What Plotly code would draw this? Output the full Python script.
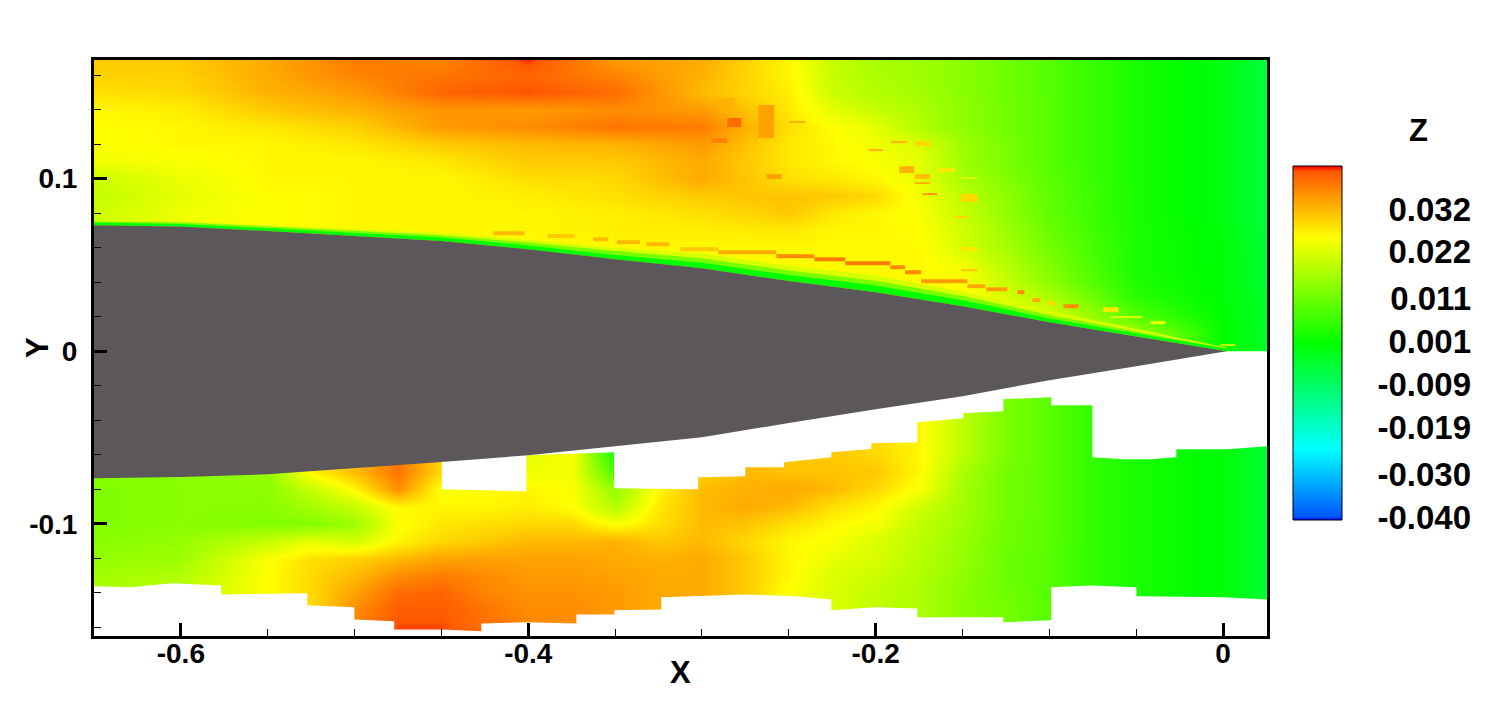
# plot.py - surface contour of Z around a slender body (X-Y plane)
import numpy as np
import plotly.graph_objects as go

# colour scale range and legend
z_min = -0.0407
z_max = 0.04205
legend_ticks = [0.032, 0.022, 0.011, 0.001, -0.009, -0.019, -0.030, -0.040]
legend_labels = ['0.032', '0.022', '0.011', '0.001', '-0.009', '-0.019', '-0.030', '-0.040']
legend_levels = [-0.0407, -0.03971, -0.02415, 0.000675, 0.0255, 0.04081, 0.04205]

# field above the body, Z in thousandths, rows listed from top to bottom
upper_x = [-0.65, -0.6, -0.55, -0.5, -0.45, -0.4, -0.35, -0.3, -0.25, -0.225, -0.2, -0.175, -0.15, -0.1, -0.05, 0.0, 0.0253]
upper_y = [0.1687, 0.16, 0.15, 0.14, 0.13, 0.12, 0.11, 0.10, 0.09, 0.08, 0.07, 0.06, 0.05, 0.04, 0.03, 0.02, 0.01, 0.0]
upper_z = [
    [30.4, 30.4, 33.3, 37.5, 36.8, 41.5, 34.7, 33.3, 26.2, 20.0, 17.0, 16.0, 14.0, 9.0, 3.0, -1.0, -5.0],
    [29.7, 29.7, 33.3, 36.8, 38.2, 39.6, 36.8, 32.5, 26.2, 20.0, 17.5, 16.0, 14.0, 9.0, 3.0, -1.0, -5.0],
    [28.3, 29.0, 32.5, 34.7, 39.6, 41.0, 38.9, 31.8, 27.0, 20.5, 18.0, 16.5, 14.0, 9.0, 3.0, -1.0, -5.0],
    [26.2, 27.0, 30.4, 32.5, 35.4, 34.7, 36.0, 34.7, 27.6, 23.0, 20.0, 17.5, 14.5, 9.0, 3.0, -1.0, -5.0],
    [25.5, 26.2, 27.6, 29.7, 34.7, 36.0, 38.2, 37.5, 28.3, 25.5, 23.0, 18.0, 14.5, 9.0, 3.0, -1.0, -5.0],
    [25.0, 26.2, 26.2, 27.6, 30.4, 31.8, 32.5, 34.7, 27.6, 26.2, 24.0, 22.0, 16.0, 9.0, 3.0, -1.0, -5.0],
    [24.0, 25.0, 26.2, 26.2, 27.6, 30.4, 30.4, 33.3, 27.6, 26.2, 25.0, 23.0, 16.0, 9.0, 3.0, -1.0, -5.0],
    [20.5, 23.5, 26.2, 26.2, 26.2, 28.3, 29.0, 33.3, 28.3, 27.6, 26.2, 23.5, 17.0, 9.5, 3.0, -1.0, -5.0],
    [19.5, 23.0, 25.5, 26.2, 26.2, 27.0, 28.3, 30.4, 31.0, 30.4, 29.0, 24.5, 19.0, 10.0, 3.0, -1.0, -5.0],
    [20.5, 24.0, 25.5, 26.2, 26.2, 26.2, 27.0, 28.3, 30.4, 27.6, 26.2, 25.0, 20.0, 10.0, 3.0, -1.0, -5.0],
    [20.5, 24.0, 25.5, 26.2, 26.2, 26.2, 27.0, 27.0, 27.6, 26.2, 26.2, 25.5, 21.0, 11.0, 3.0, -0.5, -5.0],
    [22.0, 24.0, 25.5, 26.0, 26.0, 26.0, 26.0, 26.0, 26.0, 26.0, 26.0, 26.0, 21.5, 12.0, 3.0, 0.0, -4.5],
    [22.0, 24.0, 25.5, 26.0, 26.0, 26.0, 26.0, 26.0, 26.0, 26.0, 26.0, 26.0, 24.0, 13.0, 3.0, 0.0, -4.0],
    [22.0, 24.0, 25.5, 26.0, 26.0, 26.0, 26.0, 26.0, 26.0, 26.0, 26.0, 26.0, 25.5, 14.5, 3.5, 0.0, -4.0],
    [22.0, 24.0, 25.5, 26.0, 26.0, 26.0, 26.0, 26.0, 26.0, 26.0, 26.0, 26.0, 26.0, 18.0, 5.0, 0.0, -3.0],
    [22.0, 24.0, 25.5, 26.0, 26.0, 26.0, 26.0, 26.0, 26.0, 26.0, 26.0, 26.0, 26.0, 22.0, 9.0, 0.5, -3.0],
    [22.0, 24.0, 25.5, 26.0, 26.0, 26.0, 26.0, 26.0, 26.0, 26.0, 26.0, 26.0, 26.0, 24.0, 17.0, 1.0, -3.0],
    [22.0, 24.0, 25.5, 26.0, 26.0, 26.0, 26.0, 26.0, 26.0, 26.0, 26.0, 26.0, 26.0, 24.0, 18.0, 1.0, -3.0],
]

# field below the body, Z in thousandths, rows listed from top to bottom
lower_x = [-0.65, -0.6, -0.55, -0.525, -0.5, -0.475, -0.45, -0.425, -0.4, -0.375, -0.35, -0.325, -0.3,
           -0.275, -0.25, -0.225, -0.2, -0.175, -0.15, -0.125, -0.1, -0.075, -0.05, 0.0, 0.0253]
lower_y = [-0.02, -0.05, -0.06, -0.07, -0.08, -0.09, -0.10, -0.11, -0.12, -0.13, -0.14, -0.15, -0.165]
lower_z = [
    [14, 14, 14.5, 26.2, 31.8, 38.2, 29, 26.2, 23, 25, 3, 26.2, 27.6, 31.8, 30.4, 30.4, 29, 26.2, 19, 12.5, 9.5, 5.5, 3, 0, -4.5],
    [14, 14, 14.5, 26.2, 31.8, 38.2, 29, 26.2, 23, 25, 3, 26.2, 27.6, 31.8, 30.4, 30.4, 29, 26.2, 19, 12.5, 9.5, 5.5, 3, 0, -4.5],
    [14, 14, 14.5, 26.2, 31.8, 38.2, 29, 26.2, 23, 25, 3, 26.2, 27.6, 31.8, 30.4, 30.4, 29, 26.2, 19, 12.5, 9.5, 5.5, 3, 0, -4.5],
    [14, 14, 15, 26.2, 31.8, 38.2, 29, 26.2, 24, 24.5, 8, 26.2, 29, 31.8, 31, 31, 30.4, 26.2, 17, 12, 9.5, 5.5, 3, 0, -4.5],
    [13, 14, 14.5, 20, 26.2, 36, 25, 25.5, 26.2, 25, 15, 26.2, 31.8, 32.5, 33.3, 31.8, 29, 25, 16.5, 12, 9.5, 5.5, 3, 0, -4.5],
    [13, 14, 14, 16.5, 20, 26.2, 26.2, 26.2, 27, 25.5, 18, 27.6, 31.8, 33.3, 31.8, 28.3, 26.2, 21, 16.5, 12, 9.5, 5.5, 3, 0, -4.5],
    [13, 14, 13.5, 13.5, 16, 25, 27.6, 28.3, 29, 29, 25, 28.3, 31.8, 31, 28.3, 26.2, 24.5, 19.5, 16, 11.5, 9.5, 5.5, 3, 0, -4.5],
    [14, 15, 20, 23, 21, 26.2, 29, 30.4, 31.8, 31.8, 32.5, 30.4, 31.8, 29, 26.2, 25, 22, 19, 15.5, 11.5, 9.5, 5.5, 3, 0, -4.5],
    [15, 16, 25, 28.3, 29.7, 31.8, 34, 34, 34, 34, 33.3, 32.5, 33.3, 30.4, 26.2, 23.5, 21.5, 18.5, 15, 11, 9, 5.5, 3, 0, -4.5],
    [16.5, 18, 25.5, 29, 31.8, 36, 37.5, 36, 34.7, 34.7, 34, 33.3, 33.3, 30.4, 26.2, 22, 20.5, 18, 14.5, 11, 9, 5.5, 3, 0, -4.5],
    [17, 19, 25.5, 29, 34, 38.9, 39.6, 36.8, 35.4, 35.4, 34.7, 33.3, 33.3, 30.4, 25, 22, 19.5, 17.5, 14, 11.5, 9, 5.5, 3, 0, -4.5],
    [17, 19, 25.5, 29, 36, 40.3, 40.3, 38.2, 36, 36, 34.7, 33.3, 33.3, 30.4, 25, 22, 19.5, 17.5, 14, 12, 9, 5.5, 3, 0, -4.5],
    [17, 19, 25.5, 29, 37.5, 41.5, 41.5, 38.9, 36.8, 36, 34.7, 33.3, 33.3, 30.4, 25, 22, 19.5, 17.5, 14, 12, 9, 5.5, 3, 0, -4.5],
]

# body outline
body_x = [-0.65, -0.6, -0.55, -0.5, -0.45, -0.4, -0.35, -0.3, -0.25, -0.2, -0.15, -0.1, -0.05, 0.002]
body_top_y = [0.073, 0.0722, 0.0696, 0.0668, 0.0638, 0.0591, 0.0533, 0.0481, 0.0406, 0.0342, 0.0261, 0.0168, 0.0087, 0.0]
body_bottom_y = [-0.0736, -0.0729, -0.0713, -0.0678, -0.0642, -0.0603, -0.0551, -0.0499, -0.0416, -0.0336, -0.0261,
                 -0.0168, -0.0087, 0.0]

# thin layer on the upper surface
wall_green_y = [0.0745, 0.0737, 0.0712, 0.0686, 0.0658, 0.0613, 0.0558, 0.0513, 0.0441, 0.038, 0.0295, 0.019, 0.0102, 0.0015]
wall_lime_y = [0.0752, 0.0745, 0.0722, 0.0698, 0.0672, 0.063, 0.058, 0.0538, 0.0468, 0.0408, 0.032, 0.021, 0.0115, 0.0015]
wall_pale_y = [0.0757, 0.0752, 0.073, 0.0708, 0.0685, 0.0645, 0.0598, 0.0566, 0.0495, 0.0438, 0.0345, 0.0235, 0.013, 0.002]

# upper edge of the lower data block (steps)
gap_x = [-0.4497, -0.4497, -0.4011, -0.4011, -0.3506, -0.3506, -0.3022, -0.3022, -0.275, -0.275, -0.2527, -0.2527,
         -0.2255, -0.2255, -0.2025, -0.2025, -0.176, -0.176, -0.1495, -0.1495, -0.1265, -0.1265, -0.0989, -0.0989,
         -0.0752, -0.0752, -0.0568, -0.0413, -0.0269, -0.0269, 0.0025, 0.0253]
gap_y = [0.0, -0.08, -0.0812, -0.0603, -0.0586, -0.0794, -0.08, -0.073, -0.0725, -0.0672, -0.0672, -0.0643,
         -0.0614, -0.0586, -0.0566, -0.0533, -0.0528, -0.0412, -0.0388, -0.0359, -0.0348, -0.0278, -0.0267, -0.0313,
         -0.0313, -0.0614, -0.0626, -0.0626, -0.0614, -0.0568, -0.0568, -0.0551]

# lower edge of the lower data block (steps)
floor_x = [-0.65, -0.629, -0.605, -0.5768, -0.5768, -0.5347, -0.5272, -0.5272, -0.5001, -0.5001, -0.4772, -0.4772,
           -0.4495, -0.427, -0.427, -0.4011, -0.3723, -0.3723, -0.3504, -0.3504, -0.3234, -0.3234, -0.275,
           -0.2463, -0.2255, -0.2255, -0.2002, -0.176, -0.176, -0.1265, -0.1265, -0.0989, -0.0989, -0.0758,
           -0.0499, -0.0499, 0.0, 0.0253]
floor_y = [-0.1362, -0.1368, -0.1345, -0.1357, -0.1409, -0.1403, -0.1403, -0.1472, -0.1484, -0.1554, -0.1565, -0.1612,
           -0.1612, -0.1623, -0.1577, -0.1571, -0.1577, -0.1525, -0.1525, -0.1501, -0.1496, -0.1426, -0.1409,
           -0.142, -0.1438, -0.1501, -0.1484, -0.149, -0.1542, -0.1542, -0.1571, -0.1559, -0.1368, -0.1357,
           -0.1368, -0.142, -0.1426, -0.1438]

# isolated cells in the wake, Z in thousandths
cell_x0 = [-0.2676, -0.2854, -0.29, -0.2946, -0.2497, -0.2629, -0.1864, -0.1777, -0.191, -0.2042, -0.1639, -0.1777,
           -0.1777, -0.1731, -0.1507, -0.1507, -0.1547, -0.1507, -0.1507, -0.0689, -0.0419, -0.0649, -0.0016]
cell_x1 = [-0.2584, -0.2773, -0.2808, -0.2854, -0.2405, -0.2543, -0.1777, -0.1685, -0.1818, -0.1956, -0.1547, -0.1685,
           -0.1685, -0.1645, -0.1415, -0.1415, -0.146, -0.1415, -0.1415, -0.0603, -0.0332, -0.0465, 0.007]
cell_y0 = [0.1235, 0.1299, 0.1397, 0.1206, 0.1322, 0.0997, 0.1032, 0.1188, 0.1206, 0.1159, 0.1038, 0.0997,
           0.0968, 0.0904, 0.0864, 0.0997, 0.0771, 0.058, 0.0464, 0.0226, 0.0157, 0.0191, 0.0029]
cell_y1 = [0.1426, 0.1351, 0.1467, 0.1235, 0.1333, 0.1026, 0.1072, 0.1217, 0.1217, 0.1171, 0.1061, 0.1026,
           0.098, 0.0916, 0.091, 0.1009, 0.0783, 0.0603, 0.0475, 0.0255, 0.0174, 0.0203, 0.0041]
cell_z = [34.0, 38.9, 32.5, 36.8, 32.5, 34.0, 32.5, 29.0, 32.5, 32.5, 27.6, 31.0,
          32.5, 34.7, 29.0, 22.0, 29.0, 27.6, 31.0, 27.6, 24.0, 22.0, 20.0]

# hot streak just off the upper surface, Z in thousandths
streak_x0 = [-0.42, -0.389, -0.3625, -0.349, -0.332, -0.3125, -0.2906, -0.2572, -0.2353, -0.2175, -0.1916, -0.183,
             -0.1737, -0.1472, -0.1363, -0.1184, -0.1098, -0.1012, -0.0919]
streak_x1 = [-0.402, -0.3734, -0.354, -0.336, -0.319, -0.2906, -0.2572, -0.2353, -0.2175, -0.1916, -0.183, -0.1737,
             -0.1472, -0.1368, -0.1242, -0.1144, -0.1052, -0.0966, -0.0833]
streak_y = [0.0684, 0.0667, 0.0649, 0.0632, 0.062, 0.0591, 0.0574, 0.0551, 0.0533, 0.051, 0.0487, 0.0458,
            0.0406, 0.0377, 0.0359, 0.0342, 0.0296, 0.0278, 0.0261]
streak_z = [31.8, 30.4, 31.8, 31.8, 31.8, 30.4, 33.3, 36.0, 37.5, 37.5, 36.0, 36.0, 34.7, 33.3, 34.7, 36.0, 33.3, 29.0, 36.0]

x_tick_vals = [-0.6, -0.4, -0.2, 0]
x_tick_labels = ['-0.6', '-0.4', '-0.2', '0']
y_tick_vals = [-0.1, 0, 0.1]
y_tick_labels = ['-0.1', '0', '0.1']

FONT = 'Liberation Sans, Arial, sans-serif'
W, H = 1500, 702

fig = go.Figure()

# contour field
fig.add_trace(go.Heatmap(x=upper_x, y=upper_y[::-1], z=(np.array(upper_z)[::-1] / 1000).tolist(),
                         zsmooth='best', coloraxis='coloraxis', hoverinfo='skip'))
fig.add_trace(go.Heatmap(x=lower_x, y=lower_y[::-1], z=(np.array(lower_z, dtype=float)[::-1] / 1000).tolist(),
                         zsmooth='best', coloraxis='coloraxis', hoverinfo='skip'))

# areas with no data under the body
fig.add_trace(go.Scatter(x=gap_x + [0.0253, -0.4497], y=gap_y + [0.0, 0.0], mode='lines', fill='toself',
                         fillcolor='white', line=dict(width=0), hoverinfo='skip'))
fig.add_trace(go.Scatter(x=floor_x + [0.0253, -0.65], y=floor_y + [-0.17, -0.17], mode='lines', fill='toself',
                         fillcolor='white', line=dict(width=0), hoverinfo='skip'))

# wall layer, outermost first
for band_y, band_color in [(wall_pale_y, '#d8ff00'), (wall_lime_y, '#78ff00'), (wall_green_y, '#00ff00')]:
    fig.add_trace(go.Scatter(x=body_x + body_x[::-1], y=band_y + body_top_y[::-1], mode='lines', fill='toself',
                             fillcolor=band_color, line=dict(width=0), hoverinfo='skip'))

# cells and streak pieces are one-cell heatmaps so they take their colour from the same scale
for x0, x1, y0, y1, val in zip(cell_x0, cell_x1, cell_y0, cell_y1, cell_z):
    fig.add_trace(go.Heatmap(x=[x0, x1], y=[y0, y1], z=[[val / 1000]], coloraxis='coloraxis', hoverinfo='skip'))
for x0, x1, yc, val in zip(streak_x0, streak_x1, streak_y, streak_z):
    fig.add_trace(go.Heatmap(x=[x0, x1], y=[yc - 0.0011, yc + 0.0011], z=[[val / 1000]], coloraxis='coloraxis',
                             hoverinfo='skip'))

# body
fig.add_trace(go.Scatter(x=body_x + body_x[::-1], y=body_top_y + body_bottom_y[::-1], mode='lines', fill='toself',
                         fillcolor='#5b575b', line=dict(width=0), hoverinfo='skip'))

# legend bar
fig.add_trace(go.Heatmap(x=[0, 1], y=legend_levels, z=[[v, v] for v in legend_levels], xaxis='x2', yaxis='y2',
                         zsmooth='best', coloraxis='coloraxis', hoverinfo='skip'))

tick_font = dict(family=FONT, size=28, color='black', weight='bold')
legend_font = dict(family=FONT, size=33, color='black', weight='bold')
title_font = dict(family=FONT, size=31, color='black', weight='bold')

fig.update_layout(
    width=W,
    height=H,
    margin=dict(l=0, r=0, t=0, b=0),
    paper_bgcolor='white',
    plot_bgcolor='white',
    showlegend=False,
    coloraxis=dict(
        cmin=z_min,
        cmax=z_max,
        showscale=False,
        colorscale=[[0, '#0000ff'], [0.012, '#0058ff'], [0.2, '#00ffff'], [0.5, '#00ff00'], [0.8, '#ffff00'],
                    [0.985, '#ff5800'], [1, '#ff0000']],
    ),
    xaxis=dict(
        domain=[94 / W, 1267 / W],
        range=[-0.65, 0.0253],
        tickvals=x_tick_vals,
        ticktext=x_tick_labels,
        ticks='inside',
        ticklen=13,
        tickwidth=3,
        tickcolor='black',
        minor=dict(dtick=0.05, tick0=0, ticks='inside', ticklen=7, tickwidth=1, tickcolor='black'),
        tickfont=tick_font,
        ticklabelstandoff=-10,
        showgrid=False,
        zeroline=False,
        showline=True,
        mirror=True,
        linecolor='black',
        linewidth=3,
        automargin=False,
    ),
    yaxis=dict(
        domain=[(H - 636) / H, (H - 60) / H],
        range=[-0.165, 0.1687],
        tickvals=y_tick_vals,
        ticktext=y_tick_labels,
        ticks='inside',
        ticklen=13,
        tickwidth=3,
        tickcolor='black',
        minor=dict(dtick=0.02, tick0=0, ticks='inside', ticklen=7, tickwidth=1, tickcolor='black'),
        tickfont=tick_font,
        ticklabelstandoff=8,
        showgrid=False,
        zeroline=False,
        showline=True,
        mirror=True,
        linecolor='black',
        linewidth=3,
        automargin=False,
    ),
    xaxis2=dict(
        domain=[1293 / W, 1342 / W],
        range=[0, 1],
        anchor='y2',
        showticklabels=False,
        ticks='',
        showgrid=False,
        zeroline=False,
    ),
    yaxis2=dict(
        domain=[(H - 520) / H, (H - 166) / H],
        range=[z_min, z_max],
        anchor='free',
        position=1471 / W,
        side='left',
        tickvals=legend_ticks,
        ticktext=legend_labels,
        ticks='',
        tickfont=legend_font,
        showgrid=False,
        zeroline=False,
        showline=False,
        automargin=False,
    ),
    shapes=[dict(type='rect', xref='x2 domain', yref='y2 domain', x0=0, x1=1, y0=0, y1=1,
                 line=dict(color='black', width=1))],
    annotations=[
        dict(text='X', x=680 / W, y=(H - 672) / H, xref='paper', yref='paper', showarrow=False,
             xanchor='center', yanchor='middle', font=title_font),
        dict(text='Y', x=37 / W, y=(H - 348) / H, xref='paper', yref='paper', showarrow=False,
             xanchor='center', yanchor='middle', textangle=-90, font=title_font),
        dict(text='Z', x=1418 / W, y=(H - 131) / H, xref='paper', yref='paper', showarrow=False,
             xanchor='center', yanchor='middle', font=title_font),
    ],
)

# page margin off so the figure sits at the window corner
fig.write_html("out.html", config=dict(displayModeBar=False), post_script="document.body.style.margin='0';")
